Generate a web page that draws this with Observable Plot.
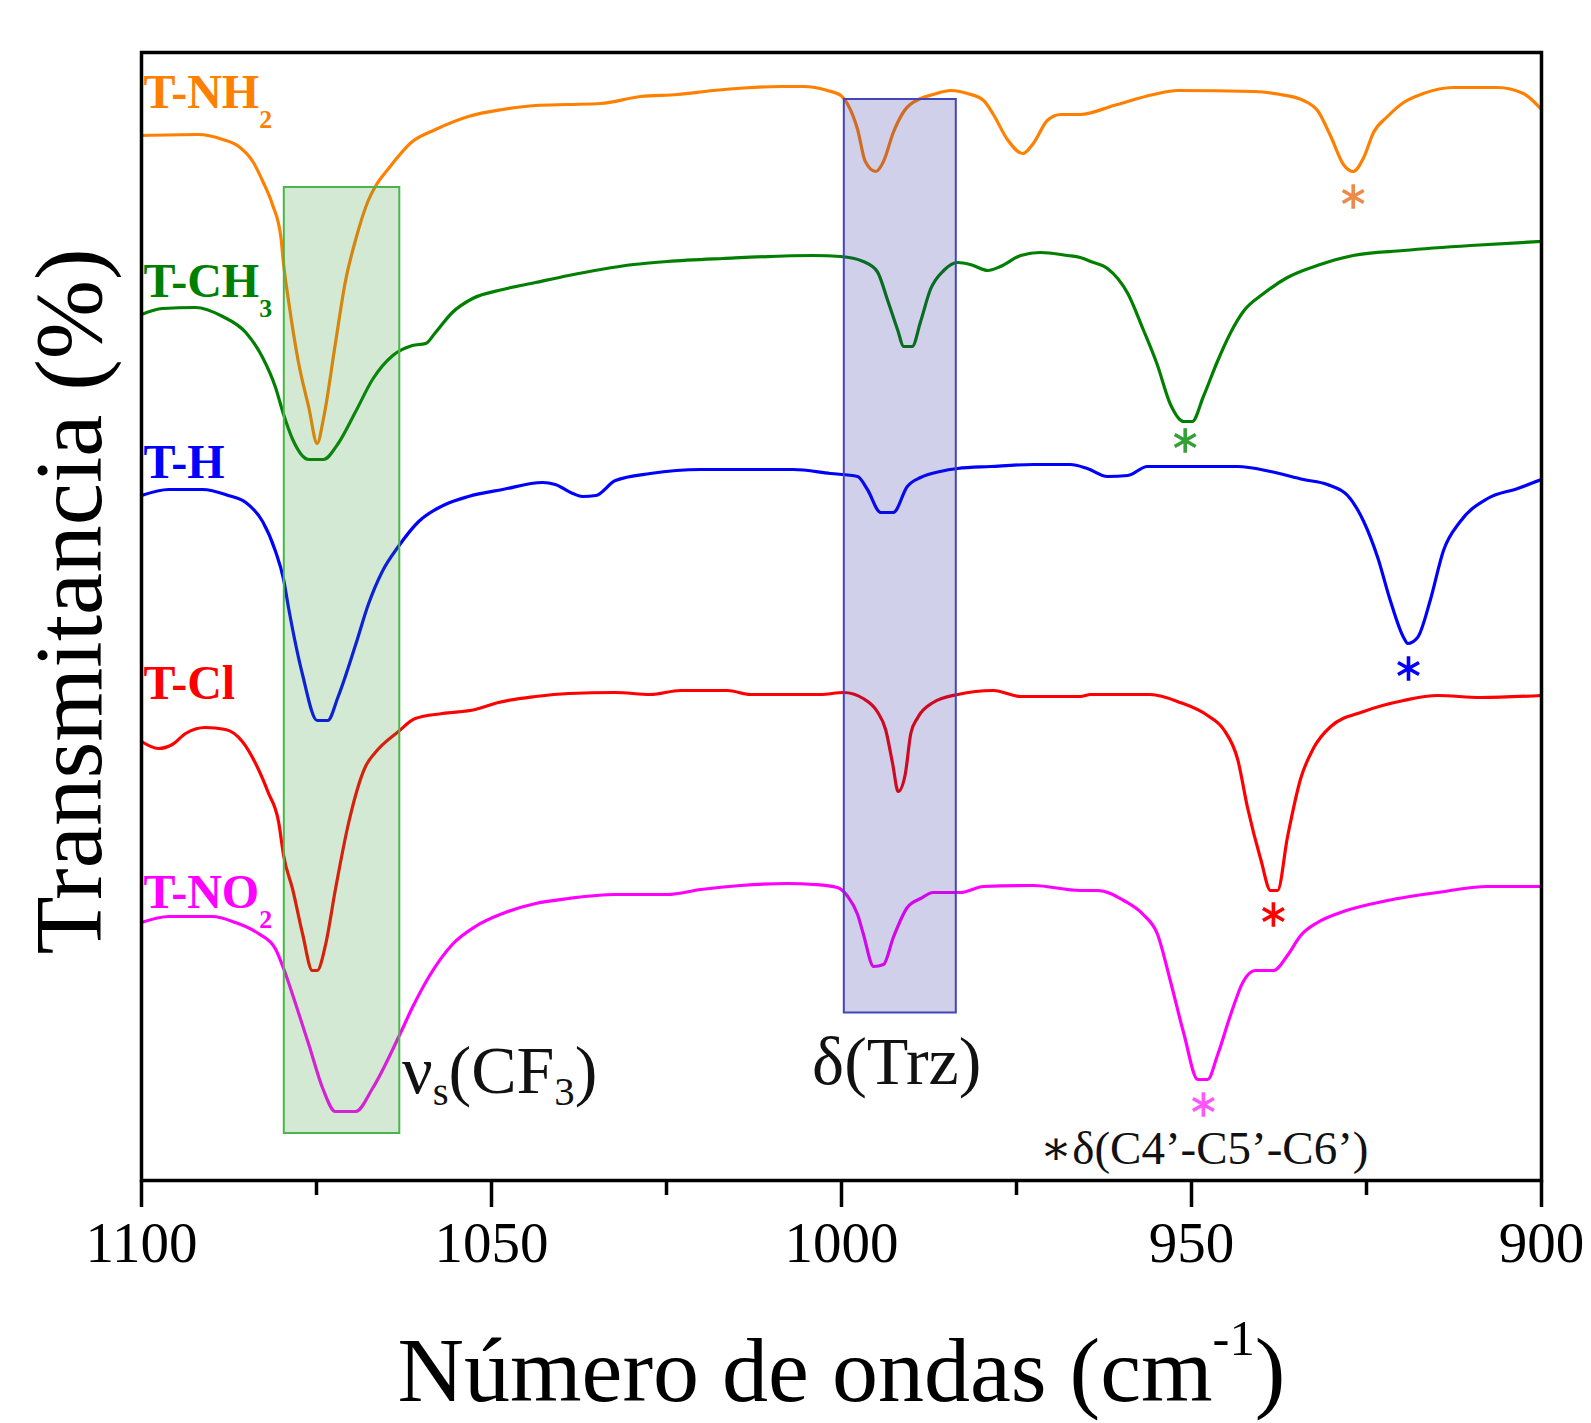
<!DOCTYPE html>
<html><head><meta charset="utf-8">
<script src="https://cdn.jsdelivr.net/npm/d3@7"></script>
<script src="https://cdn.jsdelivr.net/npm/@observablehq/plot@0.6"></script>
<style>body{margin:0;background:#fff}</style>
</head><body><div id="chart"></div>
<script>
// ---- data: [wavenumber (cm-1), transmittance (a.u., offset)] ----
const tNH2 = [[1100,104.5],[1091.9,104.6],[1088.4,104.1],[1086.1,103.4],[1084.1,101.9],[1082.6,99.8],[1081.3,97.6],[1080.1,94.4],[1079.7,91.6],[1079.0,88.0],[1077.6,81.9],[1076.1,77.3],[1074.9,73.7],[1074.0,76.2],[1072.3,83.7],[1070.9,89.8],[1069.4,94.1],[1067.6,98.0],[1066.6,99.4],[1064.7,101.2],[1061.3,103.9],[1058.0,105.1],[1053.3,106.4],[1048.4,107.1],[1043.7,107.5],[1039.0,107.6],[1034.4,107.7],[1028.7,108.4],[1023.4,108.6],[1018.3,109.0],[1014.0,109.25],[1008.7,109.4],[1005.4,109.4],[1002.0,109.0],[1000.1,108.5],[999.1,107.6],[997.7,105.1],[996.6,101.9],[995.1,100.9],[994.0,101.9],[992.6,104.8],[991.1,106.9],[988.7,108.2],[986.9,108.6],[984.4,109.0],[982.0,108.7],[979.7,108.0],[978.3,106.6],[976.3,104.1],[974.1,102.7],[972.6,103.7],[970.6,106.0],[968.7,106.6],[965.9,106.6],[961.1,107.5],[955.4,108.6],[952.0,109.0],[941.1,108.9],[937.3,108.6],[934.0,108.0],[931.9,106.9],[930.1,104.4],[928.3,101.6],[926.9,100.9],[925.4,102.3],[924.0,104.8],[922.0,106.4],[919.7,107.8],[916.9,108.7],[912.6,109.3],[906.3,109.3],[902.6,108.7],[900,107.1]];
const tCH3 = [[1100,86.6],[1097.0,87.2],[1092.3,87.3],[1088.4,86.4],[1085.1,84.8],[1082.7,82.3],[1080.9,79.4],[1079.7,76.6],[1078.4,74.1],[1076.1,72.1],[1074.0,72.1],[1071.9,73.7],[1069.4,76.9],[1067.0,80.1],[1064.1,82.5],[1061.3,83.5],[1059.4,83.7],[1058.0,84.8],[1055.6,86.8],[1052.7,88.2],[1048.4,89.1],[1043.7,89.8],[1039.0,90.5],[1034.4,91.1],[1029.7,91.6],[1024.9,91.9],[1016.9,92.2],[1004.0,92.5],[1000.1,92.4],[996.9,91.9],[994.9,90.9],[993.4,88.0],[992.0,85.1],[991.1,83.4],[989.9,83.4],[988.7,85.9],[987.3,89.1],[985.4,91.0],[983.4,91.8],[981.6,91.6],[979.1,91.0],[977.3,91.4],[974.4,92.5],[971.6,92.8],[967.7,92.5],[965.9,92.3],[964.4,91.9],[962.0,91.2],[959.1,88.7],[956.9,85.1],[954.9,81.6],[953.0,77.6],[951.1,75.9],[949.9,75.9],[948.3,78.4],[946.3,81.9],[944.4,84.8],[942.6,86.9],[939.7,88.7],[936.3,90.3],[931.6,91.6],[926.9,92.5],[919.7,93.0],[910.1,93.5],[900,93.9]];
const tH = [[1100,68.5],[1096.1,69.1],[1091.3,69.1],[1087.6,68.5],[1085.1,67.8],[1082.7,65.9],[1080.9,63.0],[1079.7,60.1],[1079.0,57.3],[1077.0,50.6],[1074.9,46.0],[1073.4,46.0],[1071.9,48.4],[1069.4,53.6],[1067.6,57.6],[1065.6,60.9],[1063.3,63.4],[1060.4,65.9],[1056.6,67.6],[1053.3,68.4],[1048.4,69.1],[1042.7,69.8],[1040.9,69.6],[1038.4,68.7],[1037.0,68.4],[1035.1,68.5],[1032.3,70.0],[1027.3,70.7],[1020.1,71.1],[1006.9,71.1],[1001.6,70.7],[997.7,70.4],[996.3,69.1],[994.4,66.8],[992.6,66.8],[990.6,69.4],[988.7,70.3],[985.9,70.9],[983.4,71.2],[978.7,71.4],[972.6,71.6],[967.3,71.6],[964.9,71.2],[962.0,70.4],[959.1,70.5],[956.3,71.4],[943.4,71.4],[938.7,70.9],[934.0,70.1],[930.6,69.6],[927.7,68.5],[925.4,65.9],[923.4,62.3],[921.6,58.0],[919.7,54.3],[919.1,53.7],[917.7,54.3],[915.9,58.0],[914.0,63.0],[911.6,65.9],[907.7,68.2],[903.4,69.2],[900,70.1]];
const tCl = [[1100,43.9],[1097.6,43.2],[1095.6,43.6],[1093.7,44.7],[1090.9,45.3],[1088.0,45.1],[1085.6,43.9],[1083.7,41.7],[1081.9,38.8],[1080.4,35.8],[1079.7,32.5],[1078.4,29.1],[1077.0,24.7],[1075.6,21.0],[1074.9,21.0],[1073.7,23.6],[1072.3,29.1],[1070.4,35.8],[1068.0,41.4],[1066.6,42.8],[1063.3,44.9],[1060.9,46.2],[1057.0,46.7],[1052.3,47.1],[1049.0,47.8],[1043.7,48.4],[1039.0,48.7],[1032.3,48.8],[1027.3,48.6],[1023.0,49.0],[1016.3,49.0],[1013.0,48.6],[1003.0,48.6],[999.7,48.8],[996.9,48.2],[994.9,46.9],[993.7,45.1],[992.7,41.7],[991.9,38.9],[990.9,40.6],[990.1,44.7],[989.1,46.3],[986.9,47.8],[983.4,48.6],[978.3,49.0],[974.4,48.4],[965.9,48.4],[964.4,48.6],[955.9,48.6],[951.6,47.8],[947.7,46.5],[945.4,45.1],[943.4,42.1],[942.0,37.3],[940.1,32.1],[938.7,29.0],[937.7,29.0],[936.3,34.3],[934.4,40.2],[932.6,43.2],[930.1,45.4],[925.4,46.9],[919.7,48.0],[914.9,48.5],[908.7,48.3],[900,48.5]];
const tNO2 = [[1100,25.8],[1096.1,26.4],[1089.9,26.4],[1086.6,25.8],[1083.3,24.7],[1080.9,23.2],[1079.7,21.2],[1078.0,17.7],[1076.1,13.6],[1074.1,9.2],[1072.3,6.9],[1069.4,6.9],[1067.0,9.2],[1063.3,14.3],[1061.3,17.3],[1059.0,20.3],[1055.6,23.6],[1052.3,25.4],[1048.4,26.7],[1043.7,27.7],[1039.0,28.2],[1032.3,28.6],[1024.9,28.6],[1020.1,29.1],[1014.4,29.5],[1007.7,29.7],[1004.0,29.6],[1000.6,29.3],[999.1,28.4],[997.7,26.6],[996.9,24.7],[995.4,21.4],[994.0,21.6],[992.6,24.3],[990.6,27.3],[988.7,28.2],[986.9,28.8],[983.0,28.8],[979.7,29.4],[972.6,29.5],[965.9,29.0],[963.4,29.0],[959.7,28.0],[956.9,26.6],[954.9,24.7],[953.0,19.9],[951.1,14.7],[949.1,10.1],[947.7,10.1],[946.3,12.5],[944.4,16.6],[942.6,19.9],[940.9,21.0],[938.3,21.0],[936.3,22.5],[934.4,24.5],[932.0,25.8],[928.3,26.9],[922.0,28.0],[914.9,28.8],[907.7,29.4],[900,29.4]];

const seriesNames = ["T-NH_2", "T-CH_3", "T-H", "T-Cl", "T-NO_2"];
const labelWn = [1099.7, 1099.7, 1099.7, 1099.7, 1099.7];
const labelT = [107.3, 88.4, 70.3, 48.2, 27.3];

// δ(C4'-C5'-C6') marked bands (asterisks)
const starWn = [926.9, 950.9, 919.0, 938.3, 948.3];
const starT = [98.4, 74.0, 51.2, 26.6, 7.6];

// highlighted band regions
const bandNames = ["ν_s(CF_3)", "δ(Trz)"];
const bandWn1 = [1079.6, 999.6];
const bandWn2 = [1063.1, 983.6];
const bandT1 = [4.7, 16.75];
const bandT2 = [99.3, 108.1];
const bandLabelWn = [1062.8, 1004.2];
const bandLabelT = [8.8, 9.7];

const noteText = ["∗δ(C4’-C5’-C6’)"];
const noteWn = [971.6];
const noteT = [1.7];

const majorTicks = [1100, 1050, 1000, 950, 900];
const minorTicks = [1075, 1025, 975, 925];
const xTitle = "Número de ondas (cm^{-1})";
const yTitle = "Transmitancia (%)";

// ---- styles ----
const lineColors = ["#ff8000", "#007f00", "#0000ff", "#ff0000", "#ff00ff"];
const starColors = ["#ec8a4a", "#35a035", "#0000ff", "#ff0000", "#ff55ff"];
const series = [tNH2, tCH3, tH, tCl, tNO2];

const marks = [];
series.forEach((s, i) => {
  marks.push(Plot.line(s, {x: "0", y: "1", stroke: lineColors[i], strokeWidth: 3.2, curve: "monotone-x"}));
});
const bandFill = ["#3c9c3c", "#2a2aa0"];
const bandStroke = ["#4cb44c", "#4444bb"];
[0, 1].forEach(i => {
  marks.push(Plot.rect([i], {x1: d => bandWn1[d], x2: d => bandWn2[d], y1: d => bandT1[d], y2: d => bandT2[d],
    fill: bandFill[i], fillOpacity: 0.22, stroke: bandStroke[i], strokeWidth: 2}));
});
marks.push(Plot.dot(starWn.map((d, i) => i), {x: i => starWn[i], y: i => starT[i], symbol: "asterisk", r: 11.5,
  stroke: i => starColors[i], strokeWidth: 3.6}));
marks.push(Plot.text(seriesNames.map((d, i) => i), {x: i => labelWn[i], y: i => labelT[i], text: i => seriesNames[i],
  fill: i => lineColors[i], fontWeight: "bold", fontSize: 48, textAnchor: "start", lineAnchor: "bottom", ariaDescription: "series-labels"}));
marks.push(Plot.text(bandNames.map((d, i) => i), {x: i => bandLabelWn[i], y: i => bandLabelT[i], text: i => bandNames[i],
  fill: "#111", fontSize: 68, textAnchor: "start", lineAnchor: "bottom", ariaDescription: "band-labels"}));
marks.push(Plot.text(noteText, {x: () => noteWn[0], y: () => noteT[0], text: d => d,
  fill: "#111", fontSize: 47, textAnchor: "start", lineAnchor: "bottom"}));
marks.push(Plot.axisX(majorTicks, {tickSize: 27, tickPadding: 14, fontSize: 57, strokeWidth: 3.5, tickFormat: d => String(d), label: null}));
marks.push(Plot.axisX(minorTicks, {tickSize: 15, strokeWidth: 3.5, tickFormat: () => "", label: null}));
marks.push(Plot.text([xTitle], {frameAnchor: "bottom", dy: 220, text: d => d, fontSize: 92, textAnchor: "middle", lineAnchor: "bottom", fill: "#000", ariaDescription: "x-title"}));
marks.push(Plot.text([yTitle], {frameAnchor: "left", dx: -41, dy: -15, rotate: -90, text: d => d, fontSize: 95, textAnchor: "middle", lineAnchor: "bottom", fill: "#000"}));
marks.push(Plot.frame({stroke: "#000", strokeWidth: 3.5}));

const chart = Plot.plot({
  width: 1591, height: 1423,
  marginLeft: 141, marginRight: 50, marginTop: 52, marginBottom: 243,
  x: {domain: [1100, 900], axis: null},
  y: {domain: [0, 112.8], axis: null},
  style: {fontFamily: "'Liberation Serif', 'DejaVu Serif', serif", background: "#fff", overflow: "visible"},
  marks
});
document.getElementById("chart").appendChild(chart);

// sub/superscripts rendered as tspans
const NS = "http://www.w3.org/2000/svg";
function scripts(desc, cfg) {
  chart.querySelectorAll(`[aria-description="${desc}"] text`).forEach(t => {
    const fsEl = t.closest("[font-size]");
    const fs = fsEl ? parseFloat(fsEl.getAttribute("font-size")) : 20;
    const parts = t.textContent.split(/([_^](?:\{[^}]*\}|.))/).filter(s => s !== "");
    t.textContent = "";
    let offset = 0;
    for (const p of parts) {
      const span = document.createElementNS(NS, "tspan");
      let txt, target, size = null;
      if (p[0] === "_" || p[0] === "^") {
        txt = p.slice(1).replace(/^\{/, "").replace(/\}$/, "");
        target = (p[0] === "_" ? cfg.sub : -cfg.sup) * fs;
        size = (p[0] === "_" ? cfg.subScale : cfg.supScale) * fs;
      } else { txt = p; target = 0; }
      const dy = target - offset; offset = target;
      if (dy) span.setAttribute("dy", dy);
      if (size) span.setAttribute("font-size", size);
      span.textContent = txt;
      t.appendChild(span);
    }
  });
}
scripts("series-labels", {sub: 0.42, subScale: 0.54});
scripts("band-labels", {sub: 0.18, subScale: 0.6});
scripts("x-title", {sup: 0.5, supScale: 0.55});
</script>
</body></html>
